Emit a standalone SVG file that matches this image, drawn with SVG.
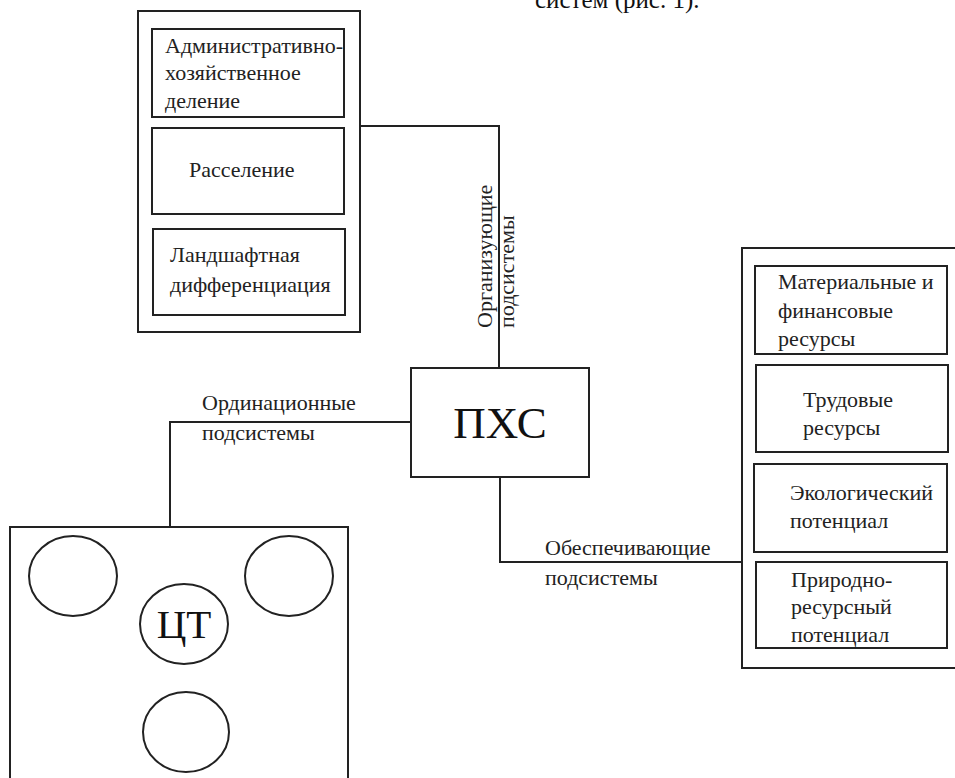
<svg xmlns="http://www.w3.org/2000/svg" width="955" height="778" viewBox="0 0 955 778">
<style>
.b{fill:#fff;stroke:#222;stroke-width:2}
.c{fill:none;stroke:#222;stroke-width:2}
.t{font-family:"Liberation Serif","Times New Roman",serif;font-size:22px;fill:#222}
.big{font-family:"Liberation Serif","Times New Roman",serif;fill:#111}
</style>
<rect width="955" height="778" fill="#fff"/>
<text class="big" x="535" y="8" font-size="25">систем (рис. 1).</text>
<g id="connectors">
<polyline class="c" points="360,126 499,126 499,368"/>
<polyline class="c" points="411,422 170,422 170,527"/>
<polyline class="c" points="500,477 500,562 742,562"/>
<line class="c" x1="111" y1="598" x2="142" y2="611"/>
<line class="c" x1="227" y1="609" x2="250" y2="599"/>
<line class="c" x1="185" y1="664" x2="186" y2="692"/>
</g>
<g id="label-org">
<text class="t" transform="translate(492,328) rotate(-90)">Организующие</text>
<text class="t" transform="translate(514,328) rotate(-90)">подсистемы</text>
</g>
<g id="label-ord">
<text class="t" x="202" y="410">Ординационные</text>
<text class="t" x="202" y="440">подсистемы</text>
</g>
<g id="label-obes">
<text class="t" x="545" y="555">Обеспечивающие</text>
<text class="t" x="545" y="585">подсистемы</text>
</g>
<g id="org-group">
<rect class="b" x="138" y="11" width="222" height="321"/>
<g id="adm">
<rect class="b" x="152" y="29" width="192" height="88"/>
<text class="t" x="165" y="53">Административно-</text>
<text class="t" x="165" y="80">хозяйственное</text>
<text class="t" x="165" y="108">деление</text>
</g>
<g id="rass">
<rect class="b" x="152" y="128" width="192" height="86"/>
<text class="t" x="189" y="177">Расселение</text>
</g>
<g id="land">
<rect class="b" x="153" y="229" width="192" height="86"/>
<text class="t" x="170" y="262">Ландшафтная</text>
<text class="t" x="170" y="292">дифференциация</text>
</g>
</g>
<g id="pxc">
<rect class="b" x="411" y="368" width="178" height="109"/>
<text class="big" x="500" y="438" font-size="45" text-anchor="middle">ПХС</text>
</g>
<g id="ord-group">
<rect class="b" x="10" y="527" width="338" height="260"/>
<ellipse class="b" cx="73" cy="576" rx="44" ry="40"/>
<ellipse class="b" cx="289" cy="576" rx="44" ry="40"/>
<ellipse class="b" cx="186" cy="732" rx="43" ry="40"/>
<g id="ct">
<ellipse class="b" cx="184" cy="624" rx="44" ry="40"/>
<text class="big" x="184" y="638" font-size="41" text-anchor="middle">ЦТ</text>
</g>
</g>
<g id="res-group">
<rect class="b" x="742" y="248" width="230" height="420"/>
<g id="mat">
<rect class="b" x="755" y="266" width="192" height="88"/>
<text class="t" x="778" y="289">Материальные и</text>
<text class="t" x="778" y="318">финансовые</text>
<text class="t" x="778" y="346">ресурсы</text>
</g>
<g id="trud">
<rect class="b" x="756" y="365" width="192" height="87"/>
<text class="t" x="803" y="407">Трудовые</text>
<text class="t" x="803" y="435">ресурсы</text>
</g>
<g id="eco">
<rect class="b" x="754" y="464" width="193" height="88"/>
<text class="t" x="790" y="500">Экологический</text>
<text class="t" x="790" y="528">потенциал</text>
</g>
<g id="prir">
<rect class="b" x="756" y="562" width="191" height="86"/>
<text class="t" x="791" y="587">Природно-</text>
<text class="t" x="791" y="614">ресурсный</text>
<text class="t" x="791" y="642">потенциал</text>
</g>
</g>
</svg>
